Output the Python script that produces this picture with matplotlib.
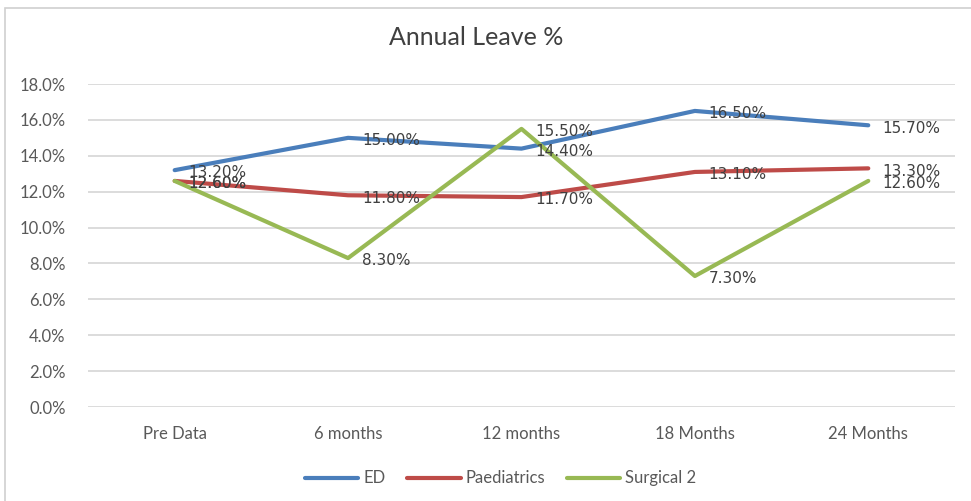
import matplotlib
matplotlib.use("Agg")
import matplotlib.pyplot as plt
from matplotlib.patches import Rectangle

categories = ["Pre Data", "6 months", "12 months", "18 Months", "24 Months"]
ed = [13.2, 15.0, 14.4, 16.5, 15.7]
paediatrics = [12.6, 11.8, 11.7, 13.1, 13.3]
surgical2 = [12.6, 8.3, 15.5, 7.3, 12.6]
series_names = ["ED", "Paediatrics", "Surgical 2"]
y_ticks = [0, 2, 4, 6, 8, 10, 12, 14, 16, 18]

colors = ["#4a7ebb", "#be4b48", "#98b954"]
txt = "#404040"

plt.rcParams["font.family"] = ["Lato", "DejaVu Sans"]

fig = plt.figure(figsize=(9.71, 5.01), dpi=100)
ax = fig.add_axes([0.0906, 0.1876, 0.8929, 0.6447])

# outer chart border
fig.patches.append(Rectangle((5 / 971, -0.1), 1.2, 1.1 - 8 / 501, transform=fig.transFigure,
                             fill=False, edgecolor="#d0d0d0", linewidth=1.2))

x = list(range(len(categories)))
for vals, name, c in zip([ed, paediatrics, surgical2], series_names, colors):
    ax.plot(x, vals, color=c, linewidth=3, label=name, solid_capstyle="round", zorder=3)
    for xi, v in zip(x, vals):
        ax.annotate(f"{v:.2f}%", (xi, v), xytext=(10, -2), textcoords="offset points",
                    ha="left", va="center", fontsize=11, color=txt,
                    family=["DejaVu Sans"], zorder=4)

ax.set_xlim(-0.5, len(categories) - 0.5)
ax.set_ylim(0, 18)
ax.set_yticks(y_ticks)
ax.set_yticklabels([f"{t:.1f}%" for t in y_ticks])
ax.set_xticks(x)
ax.set_xticklabels(categories)
ax.tick_params(length=0, labelsize=12, colors="#595959", pad=16)
ax.tick_params(axis="x", pad=14)
ax.grid(axis="y", color="#d9d9d9", linewidth=1.3)
ax.set_axisbelow(True)
for s in ax.spines.values():
    s.set_visible(False)

fig.text(0.49, 0.925, "Annual Leave %", ha="center", va="center", fontsize=18, color=txt)

ax.legend(loc="upper center", bbox_to_anchor=(0.476, -0.15), ncol=3, frameon=False,
          fontsize=12, handlelength=3.2, handletextpad=0.3, columnspacing=1.3,
          labelcolor="#595959")

fig.savefig("out.png", dpi=100, facecolor="white")
